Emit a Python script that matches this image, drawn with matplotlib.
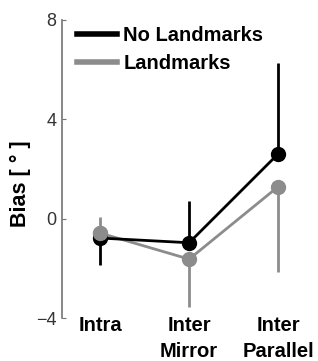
import matplotlib
matplotlib.use('Agg')
import numpy as np
import matplotlib.pyplot as plt

plt.rcParams['font.family'] = ['Liberation Sans', 'DejaVu Sans']

categories = ['Intra', 'Inter\nMirror', 'Inter\nParallel']
no_lm = [-0.78, -0.97, 2.61]
no_lm_lo = [1.07, 0.0, 0.0]
no_lm_hi = [0.0, 1.67, 3.66]
lm = [-0.58, -1.63, 1.29]
lm_lo = [0.0, 1.94, 3.42]
lm_hi = [0.64, 0.0, 0.0]

fig = plt.figure(figsize=(3.18, 3.61), dpi=100)
ax = fig.add_axes([0.195, 0.119, 0.75, 0.826])

x = np.arange(1, len(categories) + 1)
black = '#000000'
gray = '#8c8c8c'

ax.errorbar(x, no_lm, yerr=[no_lm_lo, no_lm_hi], color=black, lw=2, elinewidth=2,
            marker='o', ms=10, capsize=0, label='No Landmarks', zorder=3)
ax.errorbar(x, lm, yerr=[lm_lo, lm_hi], color=gray, lw=2, elinewidth=2,
            marker='o', ms=10, capsize=0, label='Landmarks', zorder=2)
# gray marker sits on top at Intra
ax.plot(x[:1], lm[:1], 'o', color=gray, ms=10, zorder=4)

ax.set_xlim(0.573, 3.25)
ax.set_ylim(-4, 8)
ax.set_yticks([-4, 0, 4, 8])
ax.set_xticks(x)
ax.set_xticklabels(categories, fontsize=14.5, fontweight='bold', linespacing=1.5)
ax.tick_params(axis='x', length=0, pad=-1.5)
ax.tick_params(axis='y', direction='in', length=3, color='0.45', labelsize=13,
               labelcolor='0.2', pad=4)
for s in ['top', 'right', 'bottom']:
    ax.spines[s].set_visible(False)
ax.spines['left'].set_color('0.45')
ax.spines['left'].set_linewidth(1.2)

ax.set_ylabel('Bias [ ° ]', fontsize=15.5, fontweight='bold')
ax.yaxis.set_label_coords(-0.13, 0.45)

h1 = plt.Line2D([], [], color=black, lw=4)
h2 = plt.Line2D([], [], color=gray, lw=4)
ax.legend([h1, h2], ['No Landmarks', 'Landmarks'], loc='upper left',
          bbox_to_anchor=(0.012, 1.02), frameon=False, handlelength=2.0,
          handletextpad=0.3, labelspacing=0.45, borderaxespad=0.2,
          prop={'size': 14.5, 'weight': 'bold'})

fig.savefig('out.png', dpi=100)
